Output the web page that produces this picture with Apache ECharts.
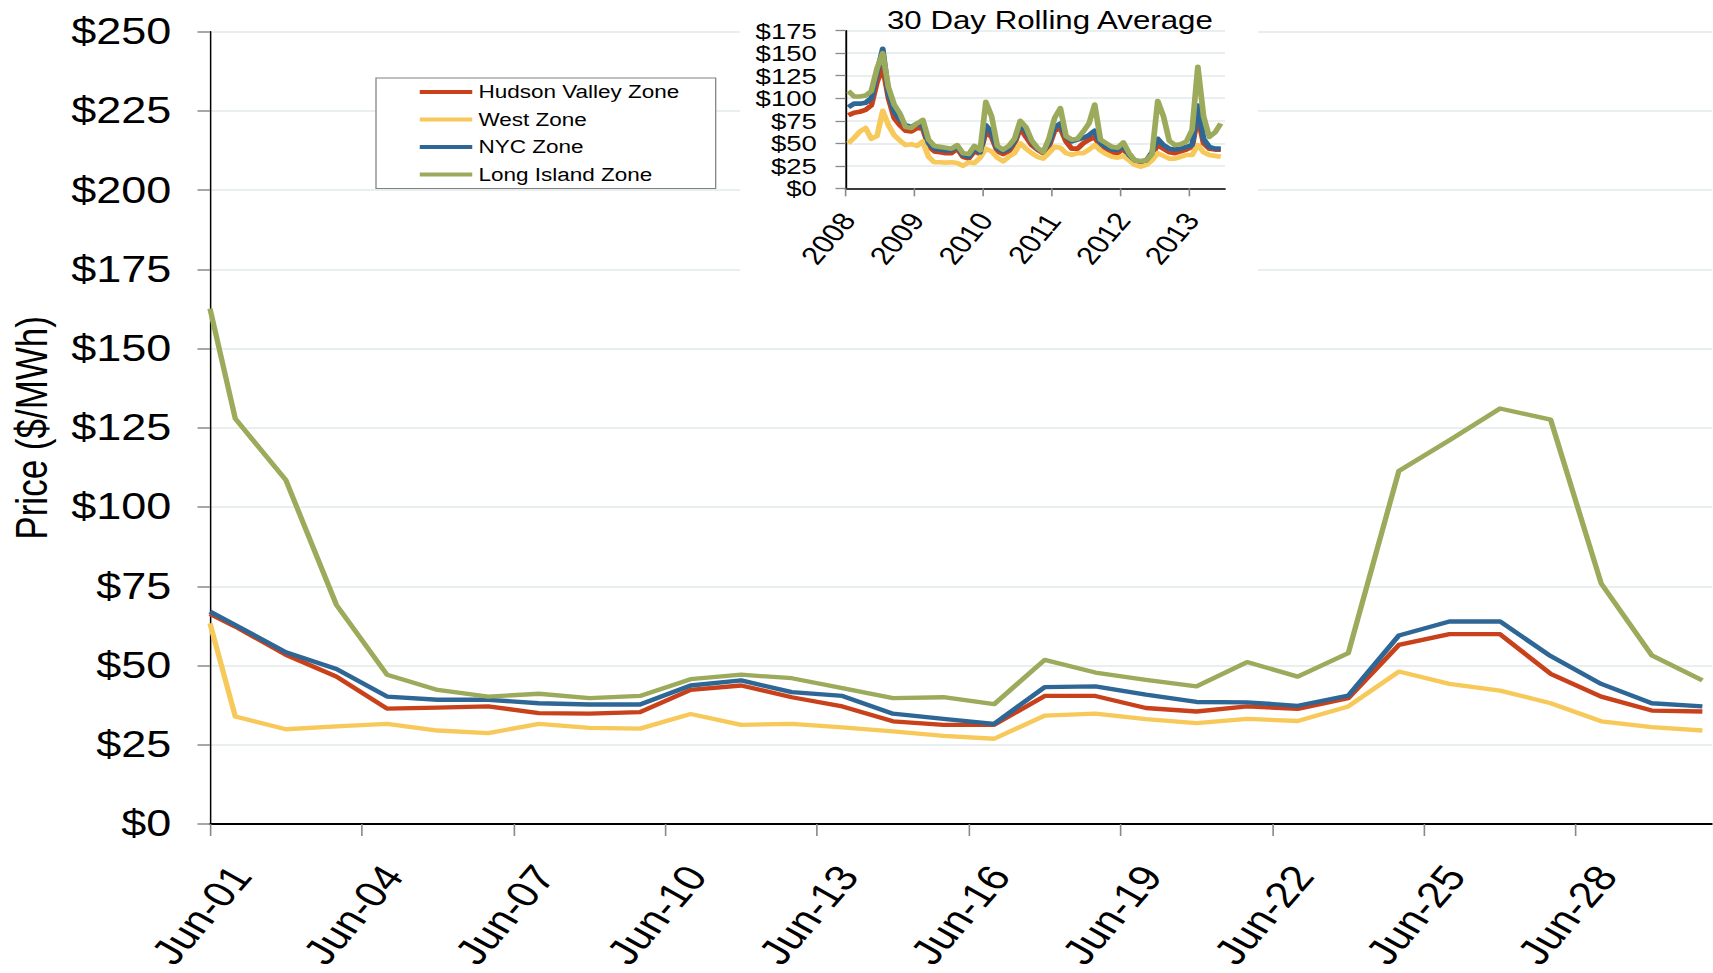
<!DOCTYPE html>
<html>
<head>
<meta charset="utf-8">
<script src="https://cdn.jsdelivr.net/npm/echarts@6/dist/echarts.min.js"></script>
<style>
html,body{margin:0;padding:0;background:#fff;overflow:hidden}
#wrap{width:1713px;height:973px;overflow:hidden;position:relative}
#c{width:1370.4px;height:973px;transform:scaleX(1.25);transform-origin:0 0}
</style>
</head>
<body>
<div id="wrap"><div id="c"></div></div>
<script>
// ---------------- data ----------------
const seriesNames = ['Hudson Valley Zone', 'West Zone', 'NYC Zone', 'Long Island Zone'];
const seriesColors = ['#c9411b', '#f7c95a', '#2e6795', '#9bab5b'];

// main chart: day offsets from Jun-01 (as plotted on the date axis)
const dayPos = [0, 0.5, 1.5, 2.5, 3.5, 4.5, 5.5, 6.5, 7.5, 8.5, 9.5, 10.5, 11.5, 12.5, 13.5, 14.5,
  15.5, 16.5, 17.5, 18.5, 19.5, 20.5, 21.5, 22.5, 23.5, 24.5, 25.5, 26.5, 27.5, 28.5, 29.5];
const hudsonValley = [66.3, 62.3, 53.4, 46.5, 36.4, 36.7, 37.1, 35.0, 34.8, 35.3, 42.3,
  43.7, 40.0, 37.1, 32.4, 31.3, 31.3, 40.4, 40.4, 36.6, 35.5,
  37.1, 36.3, 39.7, 56.5, 59.9, 59.9, 47.4, 40.2, 35.8, 35.5];
const westZone = [63.3, 33.9, 29.9, 30.8, 31.6, 29.5, 28.7, 31.6, 30.3, 30.1, 34.7,
  31.3, 31.6, 30.5, 29.2, 27.8, 26.9, 34.2, 34.8, 33.1, 31.8,
  33.2, 32.5, 37.1, 48.1, 44.2, 42.1, 38.1, 32.4, 30.6, 29.5];
const nycZone = [67.0, 62.8, 54.2, 48.9, 40.2, 39.2, 39.2, 38.1, 37.7, 37.7, 43.7,
  45.3, 41.6, 40.4, 34.8, 33.2, 31.6, 43.2, 43.4, 40.8, 38.5,
  38.4, 37.3, 40.5, 59.5, 63.9, 63.9, 53.0, 44.2, 38.1, 37.1];
const longIsland = [162.6, 127.9, 108.5, 69.1, 47.1, 42.3, 40.2, 41.1, 39.7, 40.4, 45.7,
  47.1, 46.0, 42.9, 39.7, 40.0, 37.8, 51.8, 47.8, 45.5, 43.4,
  51.1, 46.5, 53.9, 111.4, 121.1, 131.1, 127.6, 75.9, 53.2, 45.3];
const mainTickDays = [0, 3, 6, 9, 12, 15, 18, 21, 24, 27];
const mainTickLabels = ['Jun-01', 'Jun-04', 'Jun-07', 'Jun-10', 'Jun-13', 'Jun-16', 'Jun-19', 'Jun-22', 'Jun-25', 'Jun-28'];
const yTickValues = [0, 25, 50, 75, 100, 125, 150, 175, 200, 225, 250];

// inset: monthly readings of the 30 day rolling average, Jan 2008 - Jun 2013
const insetYears = [2008, 2009, 2010, 2011, 2012, 2013];
const insetHudson = [
  81, 84, 85, 87, 92, 118, 135, 100, 78, 70, 64, 63,
  67, 66, 47, 41, 40, 39, 39, 44, 35, 33, 41, 38,
  63, 57, 41, 38, 41, 49, 67, 57, 48, 43, 39, 46,
  64, 67, 52, 44, 44, 50, 54, 57, 46, 43, 39, 39,
  44, 35, 29, 28, 30, 37, 48, 44, 40, 39, 41, 43,
  46, 80, 50, 44, 43, 43];
const insetWest = [
  50, 56, 63, 67, 55, 58, 86, 70, 59, 53, 48, 49,
  47, 52, 35, 29, 29, 28.5, 29, 28, 25, 29, 28, 34,
  44, 41, 34, 30, 35, 39, 50, 44, 39, 35, 33, 39,
  46, 45, 39, 37, 39, 39, 43, 48, 42, 38, 35, 34,
  36, 31, 26, 24, 26, 31, 39, 36, 33, 33, 35, 37,
  37, 48, 40, 37, 36, 35];
const insetNYC = [
  90, 94, 94, 95, 100, 128, 155, 105, 85, 76, 70, 68,
  72, 70, 50, 44, 43, 42, 42, 47, 37, 35, 44, 40,
  70, 62, 44, 41, 44, 52, 72, 63, 52, 44, 41, 50,
  68, 72, 57, 52, 54, 56, 59, 64, 50, 46, 43, 43,
  47, 37, 31, 30, 31, 40, 55, 48, 44, 43, 44, 46,
  48, 92, 55, 46, 44, 44];
const insetLongIsland = [
  108, 102, 102, 103, 108, 133, 150, 112, 93, 83, 68, 67,
  72, 76, 54, 47, 46, 45, 44, 48, 39, 38, 47, 42,
  96, 80, 47, 43, 47, 55, 75, 68, 53, 45, 40, 55,
  78, 89, 58, 54, 55, 63, 72, 93, 54, 50, 46, 45,
  51, 39, 31, 30, 31, 38, 97, 80, 53, 48, 49, 52,
  65, 135, 80, 57, 62, 72];
const insetTickYears = [0, 1, 2, 3, 4, 5];
const insetTickLabels = ['2008', '2009', '2010', '2011', '2012', '2013'];
const insetYTicks = [0, 25, 50, 75, 100, 125, 150, 175];

// ---------------- helpers ----------------
const SX = 1.25;                 // horizontal stretch of the picture
const X = v => v / SX;           // picture px -> layout px
const FONT = "'Liberation Sans', Arial, Helvetica, sans-serif";

// month position (years since 2008, middle of month)
const insetPos = [];
insetYears.forEach(y => { for (let m = 1; m <= 12; m++) insetPos.push((y - 2008) + (m - 0.5) / 12); });
const pairs = (xs, ys) => ys.map((v, i) => [xs[i], v]);

const mainValues = [hudsonValley, westZone, nycZone, longIsland];
const insetValues = [insetHudson, insetWest, insetNYC, insetLongIsland];

const series = [];
mainValues.forEach((vals, i) => series.push({
  name: seriesNames[i], type: 'line', xAxisIndex: 0, yAxisIndex: 0,
  data: pairs(dayPos, vals), showSymbol: false, symbol: 'none',
  lineStyle: { color: seriesColors[i], width: 4.3, join: 'round' },
  itemStyle: { color: seriesColors[i] }, z: 3
}));
insetValues.forEach((vals, i) => series.push({
  name: seriesNames[i], type: 'line', xAxisIndex: 1, yAxisIndex: 1,
  data: pairs(insetPos, vals), showSymbol: false, symbol: 'none',
  lineStyle: { color: seriesColors[i], width: 4.6, join: 'round' },
  itemStyle: { color: seriesColors[i] }, z: 6
}));

const gridColor = '#e2eae9';
const tickColor = '#8a8a8a';

const option = {
  animation: false,
  backgroundColor: '#ffffff',
  textStyle: { fontFamily: FONT },
  title: {
    text: '30 Day Rolling Average', left: X(887), top: 8, padding: 0,
    textStyle: { fontSize: 25, fontWeight: 'normal', color: '#000', fontFamily: FONT }, z: 10
  },
  legend: {
    data: seriesNames, orient: 'vertical', left: X(376), top: 78,
    padding: [5, 29, 5, 35], itemWidth: 42, itemHeight: 4, itemGap: 9.5, icon: 'rect',
    backgroundColor: '#ffffff', borderColor: '#808080', borderWidth: 1,
    textStyle: { fontSize: 18, color: '#000', fontFamily: FONT }, z: 10
  },
  graphic: [{
    type: 'rect', z: 2, silent: true,
    shape: { x: X(740), y: 0, width: X(1258) - X(740), height: 278 },
    style: { fill: '#ffffff' }
  }],
  grid: [
    { left: X(209), right: 0, top: 31.7, bottom: 149 },
    { left: X(845.5), width: X(1225) - X(845.5), top: 30.7, height: 157.6 }
  ],
  xAxis: [
    {
      gridIndex: 0, type: 'value', min: 0, max: 29.7,
      axisLine: { lineStyle: { color: '#000', width: 2 } },
      axisTick: { show: true, customValues: mainTickDays, length: 12, lineStyle: { color: tickColor, width: 1.3 } },
      axisLabel: {
        customValues: mainTickDays,
        formatter: v => { const k = mainTickDays.indexOf(v); return k < 0 ? '' : mainTickLabels[k]; },
        rotate: 55, align: 'center', verticalAlign: 'middle', margin: 81, padding: [0, 24, 0, 0],
        fontSize: 36, color: '#000', fontFamily: FONT
      },
      splitLine: { show: false }
    },
    {
      gridIndex: 1, type: 'value', min: 0, max: 5.52, z: 5,
      axisLine: { lineStyle: { color: '#000', width: 1.5 } },
      axisTick: { show: true, customValues: insetTickYears, length: 8, lineStyle: { color: tickColor, width: 1.3 } },
      axisLabel: {
        customValues: insetTickYears,
        formatter: v => { const k = insetTickYears.indexOf(v); return k < 0 ? '' : insetTickLabels[k]; },
        rotate: 55, align: 'center', verticalAlign: 'middle', margin: 30, padding: [0, 49, 0, 0],
        fontSize: 25, color: '#000', fontFamily: FONT
      },
      splitLine: { show: false }
    }
  ],
  yAxis: [
    {
      gridIndex: 0, type: 'value', min: yTickValues[0], max: yTickValues[yTickValues.length - 1], interval: 25,
      name: 'Price ($/MWh)', nameLocation: 'middle', nameGap: 125, nameRotate: 90,
      nameTextStyle: { fontSize: 35, color: '#000', fontFamily: FONT },
      axisLine: { show: true, lineStyle: { color: '#000', width: 1.2 } },
      axisTick: { show: true, length: 10, lineStyle: { color: tickColor, width: 1.5 } },
      axisLabel: { formatter: v => '$' + v, margin: 31, fontSize: 36, color: '#000', fontFamily: FONT },
      splitLine: { show: true, lineStyle: { color: gridColor, width: 1.5 } }
    },
    {
      gridIndex: 1, type: 'value', min: insetYTicks[0], max: insetYTicks[insetYTicks.length - 1], interval: 25, z: 5,
      axisLine: { show: true, lineStyle: { color: '#000', width: 1.5 } },
      axisTick: { show: true, length: 8, lineStyle: { color: tickColor, width: 1.3 } },
      axisLabel: {
        formatter: v => '$' + v, margin: 23, fontSize: 22, lineHeight: 22, color: '#000', fontFamily: FONT,
        showMinLabel: true, showMaxLabel: true, hideOverlap: false
      },
      splitLine: { show: true, lineStyle: { color: gridColor, width: 1.5 } }
    }
  ],
  series: series
};

const chart = echarts.init(document.getElementById('c'), null, { renderer: 'svg' });
chart.setOption(option);
</script>
</body>
</html>
